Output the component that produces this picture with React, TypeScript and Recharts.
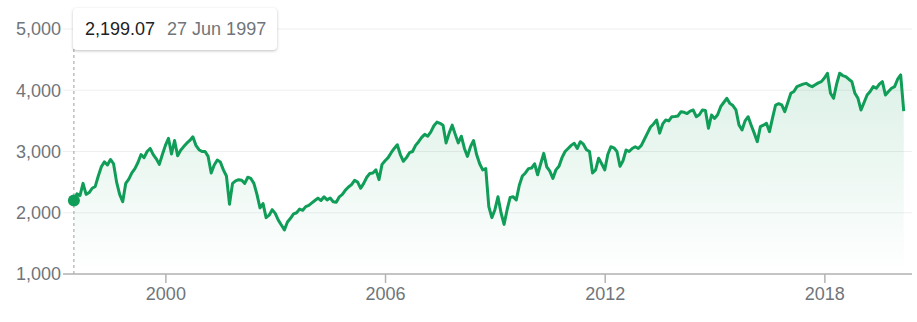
import { AreaChart, Area, XAxis, YAxis, CartesianGrid, ReferenceLine, ReferenceDot } from "recharts";

// ── Data ──────────────────────────────────────────────────────────────────────
// monthly closes, first one is 27 Jun 1997, one row per calendar year
const START_YEAR = 1997;
const START_MONTH = 5; // June (0-based)
const closes = [
  2199.07, 2310, 2280, 2480, 2300, 2330, 2400,
  2430, 2600, 2750, 2830, 2780, 2870, 2800, 2500, 2300, 2180, 2480, 2550,
  2650, 2720, 2820, 2950, 2900, 3000, 3050, 2950, 2880, 2790, 2950, 3100,
  3215, 2960, 3180, 2930, 3020, 3080, 3135, 3180, 3240, 3100, 3030, 3000,
  3000, 2920, 2650, 2780, 2860, 2830, 2700, 2600, 2140, 2480, 2520, 2540,
  2530, 2480, 2580, 2560, 2480, 2300, 2080, 2150, 1920, 1960, 2050, 1990,
  1880, 1800, 1720, 1850, 1910, 1980, 2000, 2060, 2040, 2100, 2120, 2160,
  2200, 2240, 2200, 2260, 2210, 2240, 2180, 2170, 2260, 2300, 2370, 2420,
  2460, 2530, 2500, 2400, 2480, 2580, 2640, 2650, 2700, 2540, 2790, 2850,
  2900, 2980, 3050, 3110, 2950, 2840, 2900, 2980, 3000, 3100, 3160, 3230,
  3280, 3250, 3320, 3420, 3480, 3460, 3430, 3140, 3300, 3430, 3280, 3140,
  3250, 3050, 2920, 3080, 3180, 2950, 2800, 2700, 2720, 2100, 1920, 2050,
  2260, 2000, 1810, 2050, 2250, 2260, 2210, 2450, 2600, 2650, 2720, 2730,
  2800, 2620, 2800, 2970, 2750, 2680, 2560, 2700, 2760, 2900, 3000, 3050,
  3100, 3134, 3050, 3160, 3120, 3030, 3000, 2650, 2700, 2890, 2800, 2700,
  2950, 3078, 3060, 3000, 2760, 2850, 3024, 3000, 3050, 3078, 3050, 3100,
  3200, 3300, 3400, 3450, 3514, 3300, 3450, 3514, 3500, 3568, 3570, 3580,
  3650, 3640, 3620, 3660, 3677, 3568, 3600, 3677, 3670, 3380, 3596, 3540,
  3600, 3732, 3800, 3868, 3786, 3750, 3680, 3433, 3351, 3500, 3568, 3430,
  3300, 3160, 3405, 3430, 3460, 3324, 3550, 3759, 3780, 3760, 3650, 3800,
  3950, 3980, 4059, 4080, 4100, 4113, 4080, 4059, 4090, 4120, 4141, 4200,
  4278, 3950, 3868, 4100, 4278, 4240, 4223, 4180, 4141, 3950, 3868, 3677,
  3800, 3922, 3980, 4059, 4032, 4100, 4141, 3922, 3980, 4032, 4059, 4180,
  4250, 3660,
];
const firstLabel = "27 Jun 1997";
const yTicks = [1000, 2000, 3000, 4000, 5000];
const xTicks = [2000, 2006, 2012, 2018];
const xDomain = [1997.19, 2020.38];

// ── Constants ─────────────────────────────────────────────────────────────────
const GREEN = "#0f9d58";
const GREY = "#70757a";
const FONT = "'Liberation Sans', Arial, sans-serif";

// each close sits near the 27th of its month, as a decimal year
const data = closes.map((v, i) => {
  const m = START_MONTH + i;
  const year = START_YEAR + Math.floor(m / 12);
  return { t: year + ((m % 12) + 0.85) / 12, v };
});
const fmt = (v: number) => v.toLocaleString("en-US", { minimumFractionDigits: 2, maximumFractionDigits: 2 });

export default function App() {
  const first = data[0];
  return (
    <div style={{ position: "absolute", left: 0, top: 0, width: 917, height: 322, background: "#fff", fontFamily: FONT }}>
      <AreaChart width={917} height={322} data={data} margin={{ top: 29, right: 5, bottom: 8, left: 8 }}>
        <defs>
          <linearGradient id="fillGreen" x1="0" y1="0" x2="0" y2="1">
            <stop offset="0%" stopColor={GREEN} stopOpacity={0.24} />
            <stop offset="100%" stopColor={GREEN} stopOpacity={0} />
          </linearGradient>
        </defs>
        <CartesianGrid vertical={false} stroke="#efefef" />
        <XAxis
          dataKey="t" type="number" domain={xDomain} ticks={xTicks} interval={0} allowDataOverflow
          height={40} tickSize={9} tickMargin={4}
          axisLine={{ stroke: "#b3b3b3", strokeWidth: 1.5 }} tickLine={{ stroke: "#b3b3b3", strokeWidth: 1.5 }}
          tick={{ fill: GREY, fontSize: 18, fontFamily: FONT }}
        />
        <YAxis
          domain={[1000, 5000]} ticks={yTicks} interval={0} width={55}
          axisLine={false} tickLine={false} tickSize={0} tickMargin={2}
          tick={{ fill: GREY, fontSize: 18, fontFamily: FONT }}
          tickFormatter={(v: number) => v.toLocaleString("en-US")}
        />
        <ReferenceLine x={first.t} stroke="#9aa0a6" strokeDasharray="3 3" />
        <Area
          type="linear" dataKey="v" stroke={GREEN} strokeWidth={3} strokeLinejoin="round" fill="url(#fillGreen)"
          dot={false} activeDot={false} isAnimationActive={false}
        />
        <ReferenceDot x={first.t} y={first.v} r={6} fill={GREEN} stroke="none" />
      </AreaChart>

      {/* tooltip pinned at the first point */}
      <div style={{
        position: "absolute", left: 73, top: 8, width: 204, height: 42, boxSizing: "border-box",
        background: "#fff", borderRadius: 4, boxShadow: "0 1px 3px rgba(0,0,0,0.25)",
        display: "flex", alignItems: "center", paddingLeft: 12, fontSize: 18, whiteSpace: "nowrap",
      }}>
        <span style={{ color: "#202124" }}>{fmt(first.v)}</span>
        <span style={{ color: GREY, marginLeft: 12 }}>{firstLabel}</span>
      </div>
    </div>
  );
}
